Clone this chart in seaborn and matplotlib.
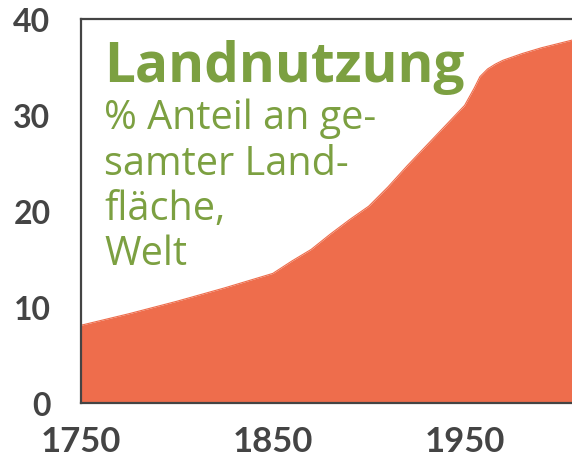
import matplotlib
matplotlib.use("Agg")
import matplotlib.pyplot as plt
import seaborn as sns
import pandas as pd

years = [1750, 1775, 1800, 1825, 1850, 1860, 1870, 1880, 1890, 1900, 1910, 1920,
         1930, 1940, 1950, 1955, 1958, 1962, 1966, 1970, 1980, 1990, 2000, 2006]
share = [8.1, 9.3, 10.6, 12.0, 13.5, 14.8, 16.0, 17.6, 19.1, 20.5, 22.5, 24.7,
         26.8, 28.9, 31.0, 32.8, 34.0, 34.8, 35.3, 35.7, 36.4, 37.0, 37.5, 37.8]
x_ticks = [1750, 1800, 1850, 1900, 1950, 2000]
x_labels = ["1750", "", "1850", "", "1950", ""]
y_ticks = [0, 10, 20, 30, 40]
title = "Landnutzung"
subtitle = "% Anteil an ge-\nsamter Land-\nfläche,\nWelt"

df = pd.DataFrame({"year": years, "share": share})

sns.set_style("white")
plt.rcParams["font.family"] = ["Lato", "DejaVu Sans"]

fill = "#EE6D4C"
green = "#7CA041"
dark = "#444444"

fig = plt.figure(figsize=(5.72, 4.64), dpi=100)
ax = fig.add_axes([0.1416, 0.1293, 0.8584, 0.8276])

ax.fill_between(df["year"], 0, df["share"], color=fill, linewidth=0)
sns.lineplot(data=df, x="year", y="share", ax=ax, color=fill, linewidth=0.8)

ax.set_xlim(1750, 2006)
ax.set_ylim(0, 40)
ax.set_xticks(x_ticks)
ax.set_xticklabels(x_labels)
ax.set_yticks(y_ticks)
ax.set_xlabel("")
ax.set_ylabel("")

for side in ["left", "bottom", "top"]:
    ax.spines[side].set_visible(True)
    ax.spines[side].set_color(dark)
    ax.spines[side].set_linewidth(1.6)
ax.spines["right"].set_visible(False)

ax.tick_params(axis="both", which="both", direction="out", length=7, width=1.5,
               color=dark, labelcolor=dark)
ax.tick_params(axis="x", pad=9, labelsize=25)
ax.tick_params(axis="y", pad=15, labelsize=23)
for lab in ax.get_xticklabels() + ax.get_yticklabels():
    lab.set_fontweight("bold")

ax.text(0.047, 0.947, title, transform=ax.transAxes, ha="left", va="top",
        fontsize=39.5, fontweight="bold", color=green, family=["Open Sans", "DejaVu Sans"])
ax.text(0.047, 0.795, subtitle, transform=ax.transAxes, ha="left", va="top",
        fontsize=28.5, color=green, linespacing=1.16, family=["Open Sans", "DejaVu Sans"])

fig.savefig("out.png", dpi=100)
